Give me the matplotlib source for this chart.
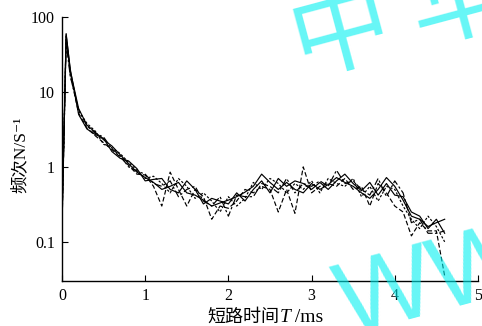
import numpy as np
import matplotlib.pyplot as plt
from matplotlib.ticker import FixedLocator, FixedFormatter, NullLocator

# short-circuit time T (ms)
t = [0.0, 0.05] + [round(0.1 * k, 1) for k in range(1, 47)]

# frequency N (1/s), one list per measured run
run1 = [0.2, 60, 19, 6.0, 3.6, 2.9, 2.3, 1.9, 1.45, 1.1, 0.85, 0.72, 0.62, 0.5, 0.55, 0.62,
        0.45, 0.42, 0.36, 0.3, 0.33, 0.36, 0.4, 0.46, 0.55, 0.8, 0.62, 0.5, 0.62, 0.5, 0.45,
        0.6, 0.5, 0.58, 0.72, 0.62, 0.55, 0.45, 0.38, 0.5, 0.72, 0.55, 0.36, 0.22, 0.2, 0.16,
        0.18, 0.2]
run2 = [0.15, 55, 17, 5.2, 3.3, 2.6, 2.1, 1.7, 1.35, 1.05, 0.8, 0.78, 0.55, 0.3, 0.85, 0.5,
        0.3, 0.5, 0.4, 0.2, 0.3, 0.28, 0.35, 0.5, 0.45, 0.55, 0.5, 0.25, 0.5, 0.24, 1.0,
        0.45, 0.55, 0.6, 0.55, 0.7, 0.5, 0.55, 0.3, 0.6, 0.45, 0.3, 0.25, 0.12, 0.18, 0.14,
        0.14, 0.035]
run3 = [0.18, 50, 18, 5.6, 3.8, 3.0, 2.0, 1.8, 1.5, 1.15, 0.9, 0.7, 0.75, 0.6, 0.45, 0.7,
        0.55, 0.38, 0.45, 0.35, 0.25, 0.4, 0.3, 0.38, 0.62, 0.5, 0.7, 0.6, 0.45, 0.6, 0.5,
        0.65, 0.45, 0.7, 0.6, 0.55, 0.7, 0.4, 0.55, 0.35, 0.55, 0.5, 0.3, 0.2, 0.15, 0.22,
        0.16, 0.1]
run4 = [0.15, 58, 20, 5.0, 3.2, 2.7, 2.4, 1.6, 1.3, 1.2, 0.95, 0.65, 0.68, 0.7, 0.5, 0.45,
        0.65, 0.5, 0.32, 0.38, 0.35, 0.32, 0.45, 0.35, 0.5, 0.65, 0.45, 0.7, 0.55, 0.65, 0.6,
        0.5, 0.62, 0.5, 0.65, 0.8, 0.6, 0.48, 0.62, 0.42, 0.6, 0.42, 0.4, 0.25, 0.22, 0.15,
        0.2, 0.13]
run5 = [0.2, 45, 16, 5.8, 3.5, 2.8, 2.5, 1.75, 1.4, 1.0, 0.88, 0.8, 0.6, 0.55, 0.65, 0.4,
        0.5, 0.55, 0.35, 0.3, 0.4, 0.22, 0.42, 0.4, 0.4, 0.6, 0.55, 0.45, 0.7, 0.45, 0.6,
        0.55, 0.65, 0.55, 0.9, 0.6, 0.65, 0.5, 0.42, 0.7, 0.4, 0.65, 0.45, 0.18, 0.2, 0.13,
        0.13, 0.14]

yticks = [0.1, 1, 10, 100]
ylabels = ['0.1', '1', '10', '100']
xticks = [0, 1, 2, 3, 4, 5]

serif = ['Liberation Serif', 'Noto Sans CJK SC', 'DejaVu Serif']

fig = plt.figure(figsize=(4.82, 3.26), dpi=100)
ax = fig.add_axes([0.1286, 0.138, 0.863, 0.810])

runs = [run1, run2, run3, run4, run5]
styles = ['-', (0, (4, 2)), (0, (2, 1.5)), '-', (0, (6, 2, 2, 2))]
for y, ls in zip(runs, styles):
    ax.plot(t, y, color='black', linestyle=ls, linewidth=0.85)

ax.set_yscale('log')
ax.set_xlim(0, 5)
ax.set_ylim(0.03, 100)

ax.yaxis.set_major_locator(FixedLocator(yticks))
ax.yaxis.set_major_formatter(FixedFormatter(ylabels))
ax.yaxis.set_minor_locator(NullLocator())
ax.set_xticks(xticks)
ax.set_xticklabels([str(v) for v in xticks])
ax.tick_params(direction='in', length=4, width=0.8, top=False, right=False, pad=5)
for lab in ax.get_xticklabels() + ax.get_yticklabels():
    lab.set_family(serif)
    lab.set_fontsize(11.5)

ax.spines['top'].set_visible(False)
ax.spines['right'].set_visible(False)
ax.spines['left'].set_linewidth(1.0)
ax.spines['bottom'].set_linewidth(1.0)

# y axis label
fig.text(0.042, 0.525, '频次N/S⁻¹', rotation=90, ha='center', va='center',
         fontsize=12.5, family=serif)

# x axis label built from pieces so that T is italic
t1 = fig.text(0.43, 0.012, '短路时间', ha='left', va='baseline', fontsize=13, family=serif)
t2 = ax.annotate('T', xy=(1, 0), xycoords=t1, ha='left', va='bottom', fontsize=14,
                 family=serif, style='italic', annotation_clip=False)
ax.annotate(' /ms', xy=(1, 0), xycoords=t2, ha='left', va='bottom', fontsize=14,
            family=serif, annotation_clip=False)

# watermark
wm = dict(color='#00f0f0', alpha=0.6, rotation=15, rotation_mode='anchor', zorder=10,
          ha='left', va='baseline')
fig.text(0.625, 0.77, '中 华', fontsize=72, family=['Noto Sans CJK SC', 'DejaVu Sans'], **wm)
fig.text(0.72, -0.03, 'WWW', fontsize=74,
         family=['Liberation Sans Narrow', 'Liberation Sans', 'DejaVu Sans'], **wm)

fig.savefig('out.png', dpi=100)
